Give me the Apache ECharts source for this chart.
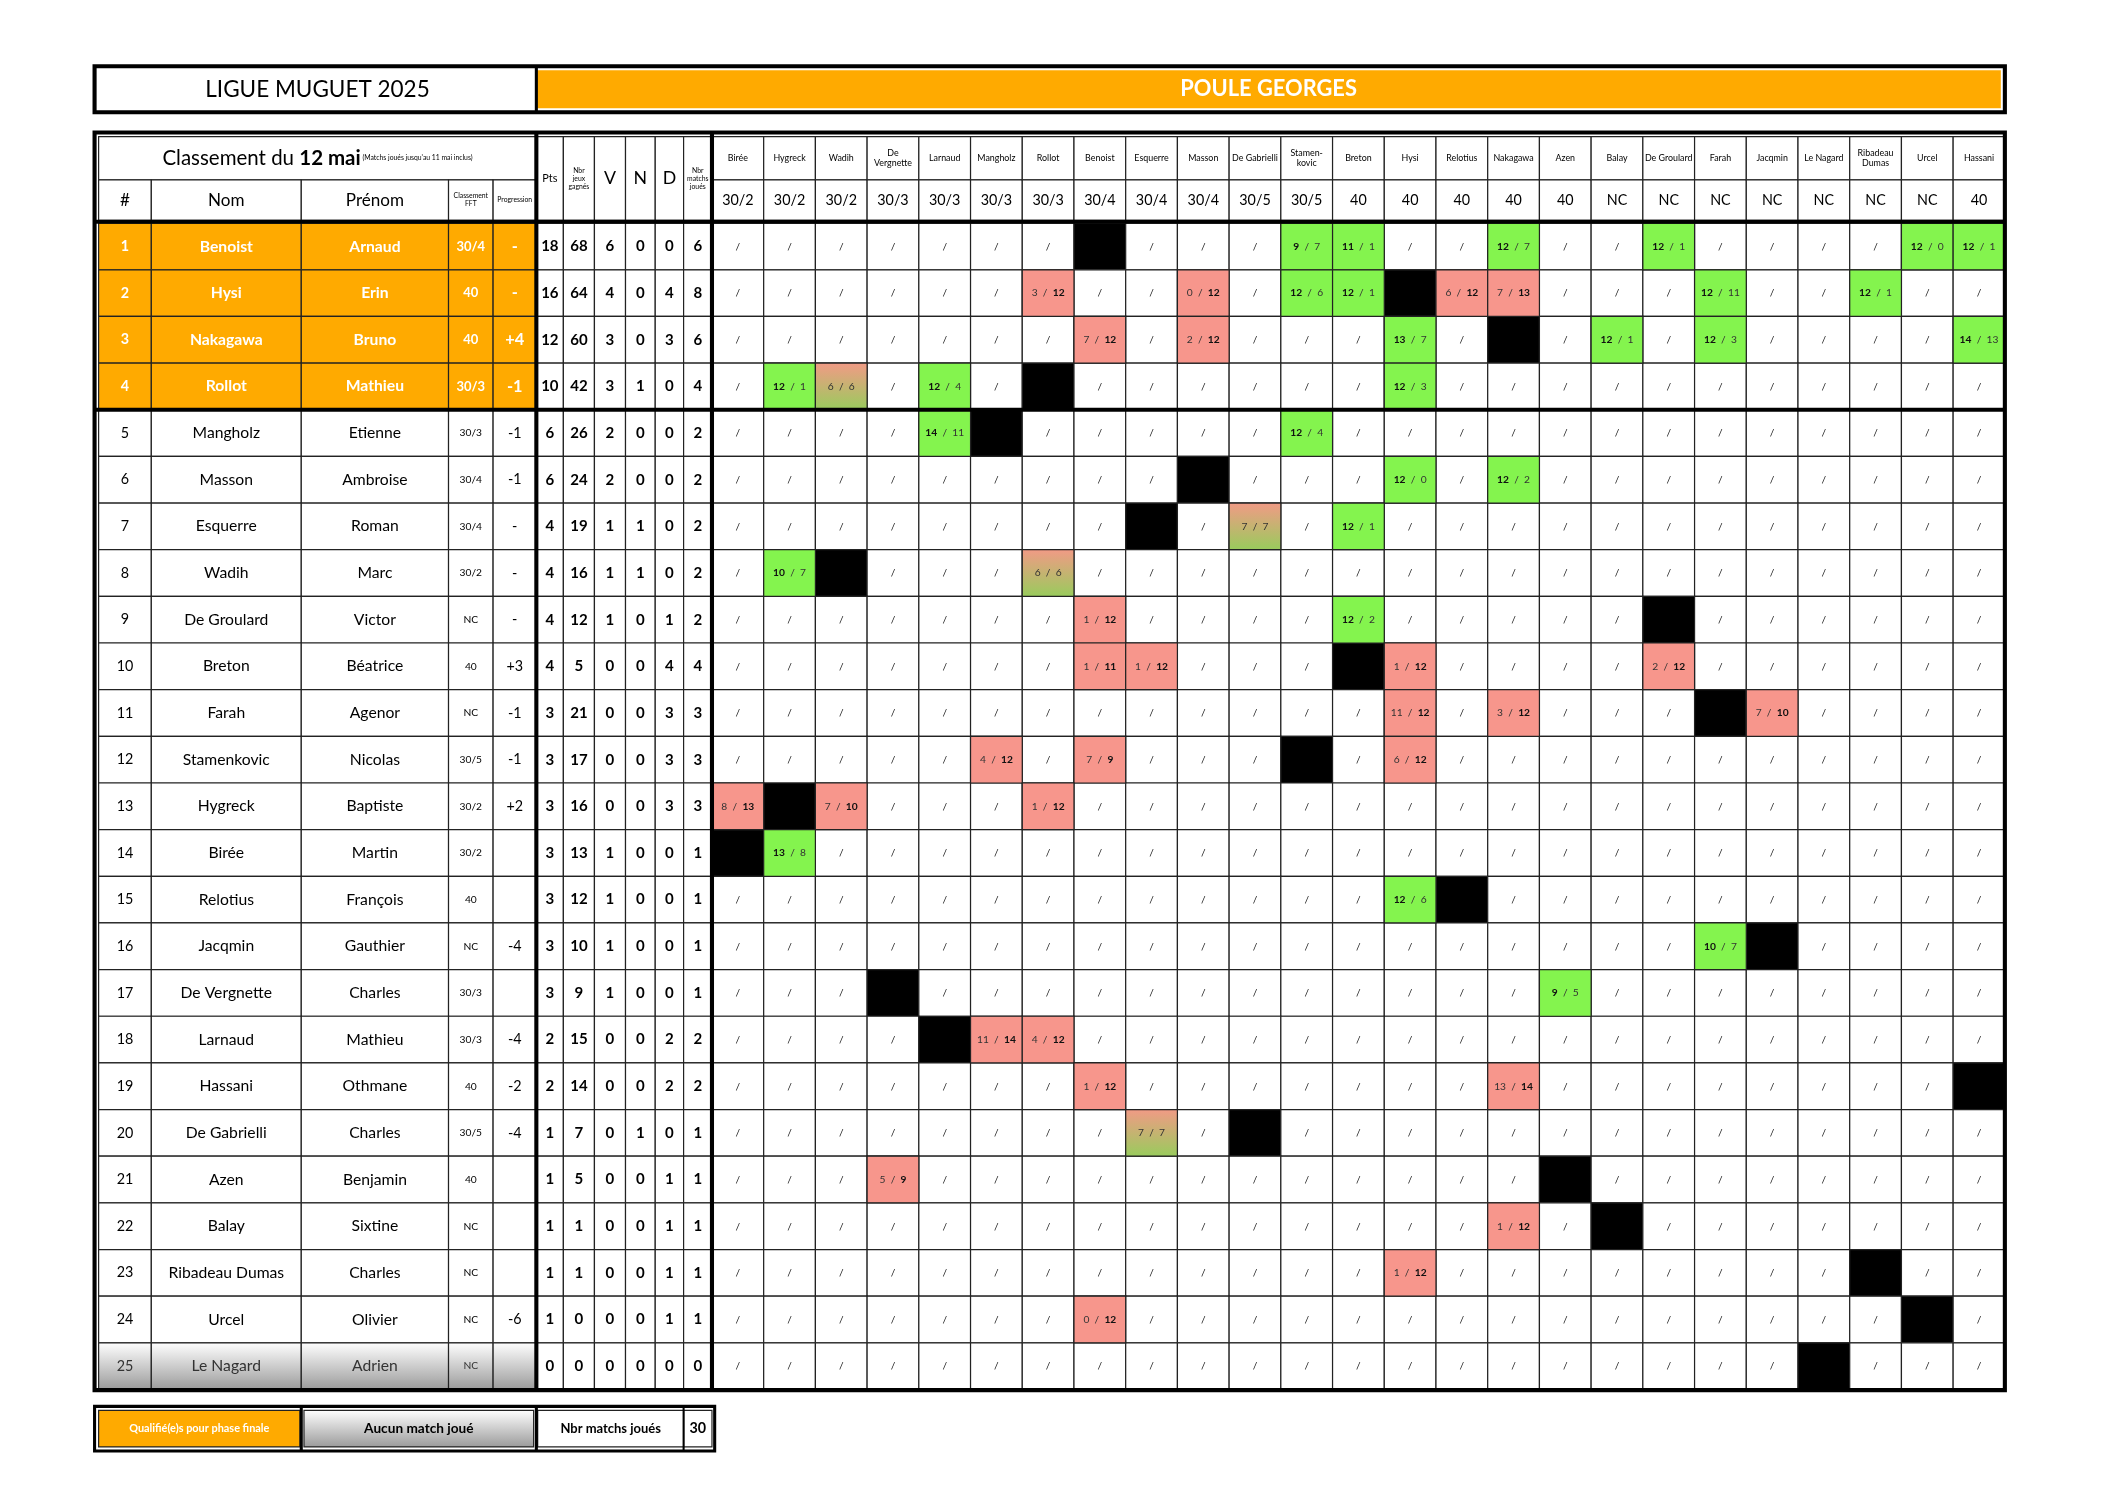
<!DOCTYPE html>
<html>
<head>
<meta charset="UTF-8">
<title>Ligue Muguet 2025</title>
<script src="https://cdn.jsdelivr.net/npm/echarts@6/dist/echarts.min.js"></script>
<style>
  body, html { margin: 0; padding: 0; width: 100%; height: 100%; background: #fff; }
  #main { width: 100%; height: 100%; }
</style>
</head>
<body>
<div id="main"></div>
<script>
// ---- data ----
var noms = ['Benoist','Hysi','Nakagawa','Rollot','Mangholz','Masson','Esquerre','Wadih','De Groulard','Breton','Farah','Stamenkovic','Hygreck','Birée','Relotius','Jacqmin','De Vergnette','Larnaud','Hassani','De Gabrielli','Azen','Balay','Ribadeau Dumas','Urcel','Le Nagard'];
var prenoms = ['Arnaud','Erin','Bruno','Mathieu','Etienne','Ambroise','Roman','Marc','Victor','Béatrice','Agenor','Nicolas','Baptiste','Martin','François','Gauthier','Charles','Mathieu','Othmane','Charles','Benjamin','Sixtine','Charles','Olivier','Adrien'];
var classementFFT = ['30/4','40','40','30/3','30/3','30/4','30/4','30/2','NC','40','NC','30/5','30/2','30/2','40','NC','30/3','30/3','40','30/5','40','NC','NC','NC','NC'];
var progression = ['-','-','+4','-1','-1','-1','-','-','-','+3','-1','-1','+2','','','-4','','-4','-2','-4','','','','-6',''];
var pts    = [18,16,12,10,6,6,4,4,4,4,3,3,3,3,3,3,3,2,2,1,1,1,1,1,0];
var jeux   = [68,64,60,42,26,24,19,16,12,5,21,17,16,13,12,10,9,15,14,7,5,1,1,0,0];
var vict   = [6,4,3,3,2,2,1,1,1,0,0,0,0,1,1,1,1,0,0,0,0,0,0,0,0];
var nuls   = [0,0,0,1,0,0,1,1,0,0,0,0,0,0,0,0,0,0,0,1,0,0,0,0,0];
var defs   = [0,4,3,0,0,0,0,0,1,4,3,3,3,0,0,0,0,2,2,0,1,1,1,1,0];
var joues  = [6,8,6,4,2,2,2,2,2,4,3,3,3,1,1,1,1,2,2,1,1,1,1,1,0];
var colNoms = ['Birée','Hygreck','Wadih','De\nVergnette','Larnaud','Mangholz','Rollot','Benoist','Esquerre','Masson','De Gabrielli','Stamen-\nkovic','Breton','Hysi','Relotius','Nakagawa','Azen','Balay','De Groulard','Farah','Jacqmin','Le Nagard','Ribadeau\nDumas','Urcel','Hassani'];
var colClassements = ['30/2','30/2','30/2','30/3','30/3','30/3','30/3','30/4','30/4','30/4','30/5','30/5','40','40','40','40','40','NC','NC','NC','NC','NC','NC','NC','40'];
// own column (black cell) for each row
var ownCol = [7,13,15,6,5,9,8,2,18,12,19,11,1,0,14,20,3,4,24,10,16,17,22,23,21];
// [row, col, jeux pour, jeux contre]
var scores = [
  [0,11,9,7],[0,12,11,1],[0,15,12,7],[0,18,12,1],[0,23,12,0],[0,24,12,1],
  [1,6,3,12],[1,9,0,12],[1,11,12,6],[1,12,12,1],[1,14,6,12],[1,15,7,13],[1,19,12,11],[1,22,12,1],
  [2,7,7,12],[2,9,2,12],[2,13,13,7],[2,17,12,1],[2,19,12,3],[2,24,14,13],
  [3,1,12,1],[3,2,6,6],[3,4,12,4],[3,13,12,3],
  [4,4,14,11],[4,11,12,4],
  [5,13,12,0],[5,15,12,2],
  [6,10,7,7],[6,12,12,1],
  [7,1,10,7],[7,6,6,6],
  [8,7,1,12],[8,12,12,2],
  [9,7,1,11],[9,8,1,12],[9,13,1,12],[9,18,2,12],
  [10,13,11,12],[10,15,3,12],[10,20,7,10],
  [11,5,4,12],[11,7,7,9],[11,13,6,12],
  [12,0,8,13],[12,2,7,10],[12,6,1,12],
  [13,1,13,8],
  [14,13,12,6],
  [15,19,10,7],
  [16,16,9,5],
  [17,5,11,14],[17,6,4,12],
  [18,7,1,12],[18,15,13,14],
  [19,8,7,7],
  [20,3,5,9],
  [21,15,1,12],
  [22,13,1,12],
  [23,7,0,12]
];
var nbQualifies = 4;
var totalMatchs = 30;

// ---- layout (page units) ----
var W = 1567, H = 1107;
var ORANGE = '#FFAA00', GREEN = '#84F44E', RED = '#F7968C';
var leftCols = [73,112,223,332,365,397];
var statCols = [397,417,440,463,485,506,527];
var mx0 = 527, mx1 = 1484, mcw = (mx1 - mx0) / 25;
var rowTop = 165, rowH = 34.5;
var FONT = 'Lato, "DejaVu Sans", sans-serif';

var cells = [];   // [x0,x1,y0,y1,text,fill,color,size,weight,border]
var frames = [];  // [x0,x1,y0,y1,lineWidth]
function cell(x0,x1,y0,y1,text,fill,color,size,weight,border){
  cells.push([x0,x1,y0,y1,text,fill||'#fff',color||'#000',size||11,weight||'normal',border===undefined?'#222':border]);
}
var drawGrad = {type:'linear',x:0,y:0,x2:0,y2:1,colorStops:[{offset:0,color:'#F29A86'},{offset:1,color:'#98CC5C'}]};
var greyGrad = {type:'linear',x:0,y:0,x2:0,y2:1,colorStops:[{offset:0,color:'#FFFFFF'},{offset:1,color:'#9A9A9A'}]};

// title band
cell(73,397,52,80,'LIGUE MUGUET 2025','#fff','#000',16.5,'normal','transparent');
cell(397,1481,52,80,'POULE GEORGES',ORANGE,'#fff',16,'bold','transparent');
frames.push([70,1484,49,83,4],[397,397,49,83,3]);

// header rows
cell(73,397,101,133,'{a|Classement du }{b|12 mai}{s| (Matchs joués jusqu\'au 11 mai inclus)}','#fff','#000',15,'normal');
var hdr = ['#','Nom','Prénom','Classement\nFFT','Progression'];
for (var i = 0; i < 5; i++) {
  var sm = i >= 3;
  cell(leftCols[i],leftCols[i+1],133,163,hdr[i],'#fff','#000',sm?5:12.5,'normal');
}
var shdr = ['Pts','Nbr\njeux\ngagnés','V','N','D','Nbr\nmatchs\njoués'];
for (i = 0; i < 6; i++) {
  var small = (i === 1 || i === 5), pt = i === 0;
  cell(statCols[i],statCols[i+1],101,163,shdr[i],'#fff','#000',small?5:(pt?8:13),'normal');
}
for (var c = 0; c < 25; c++) {
  cell(mx0+c*mcw,mx0+(c+1)*mcw,101,133,colNoms[c],'#fff','#000',6.5,'normal');
  cell(mx0+c*mcw,mx0+(c+1)*mcw,133,163,colClassements[c],'#fff','#000',10.5,'normal');
}

// body rows
for (var r = 0; r < 25; r++) {
  var y0 = rowTop + r*rowH, y1 = y0 + rowH;
  var q = r < nbQualifies, last = r === joues.length-1 && joues[r] === 0;
  var f = q ? ORANGE : (last ? greyGrad : '#fff');
  var tc = q ? '#fff' : (last ? '#333' : '#000');
  var w = q ? 'bold' : 'normal';
  var vals = [String(r+1), noms[r], prenoms[r], classementFFT[r], progression[r]];
  var sz = [10.5,11.5,11.5,q?9.5:7.5,10.5];
  for (i = 0; i < 5; i++) cell(leftCols[i],leftCols[i+1],y0,y1,vals[i],f,tc,q&&i===4?12:sz[i],w);
  var sv = [pts[r],jeux[r],vict[r],nuls[r],defs[r],joues[r]];
  for (i = 0; i < 6; i++) cell(statCols[i],statCols[i+1],y0,y1,String(sv[i]),'#fff','#000',11,'bold');
  for (c = 0; c < 25; c++) {
    if (c === ownCol[r]) cell(mx0+c*mcw,mx0+(c+1)*mcw,y0,y1,'','#000','#000',8,'normal');
    else cell(mx0+c*mcw,mx0+(c+1)*mcw,y0,y1,'/','#fff','#222',7.5,'normal');
  }
}
scores.forEach(function (s) {
  var r = s[0], c = s[1], a = s[2], b = s[3];
  var y0 = rowTop + r*rowH;
  var fill, txt;
  if (a > b) { fill = GREEN; txt = '{w|' + a + '}{n|  /  ' + b + '}'; }
  else if (a < b) { fill = RED; txt = '{n|' + a + '  /  }{w|' + b + '}'; }
  else { fill = drawGrad; txt = '{n|' + a + '  /  ' + b + '}'; }
  cell(mx0+c*mcw,mx0+(c+1)*mcw,y0,y0+rowH,txt,fill,'#222',7,'normal');
});

// thick frames
frames.push([70,1484,98,1028,4]);
frames.push([70,1484,164,164,4]);
frames.push([70,1484,rowTop+nbQualifies*rowH,rowTop+nbQualifies*rowH,4]);
frames.push([397,397,98,1028,4],[527,527,98,1028,4]);

// legend
cell(73,222,1043,1070,'Qualifié(e)s pour phase finale',ORANGE,'#fff',8,'bold');
cell(225,395,1043,1070,'Aucun match joué',greyGrad,'#000',10,'bold');
cell(398,506,1043,1070,'Nbr matchs joués','#fff','#000',9.5,'bold');
cell(506,527,1043,1070,String(totalMatchs),'#fff','#000',10.5,'bold');
frames.push([70,529,1040,1073,3],[397,397,1040,1073,3],[506,506,1040,1073,2],[223,223,1040,1073,3]);

var chart = echarts.init(document.getElementById('main'), null, {renderer: 'canvas'});
var K = chart.getWidth() / 1550;

function renderCell(params, api) {
  var d = cells[params.dataIndex];
  var p0 = api.coord([d[0], d[2]]), p1 = api.coord([d[1], d[3]]);
  var fs = d[7] * K;
  var isTitle = d[4].indexOf('{a|') === 0;
  return {
    type: 'group',
    children: [{
      type: 'rect',
      shape: {x: p0[0], y: p0[1], width: p1[0]-p0[0], height: p1[1]-p0[1]},
      style: {fill: d[5], stroke: d[9], lineWidth: 1.2}
    }, {
      type: 'text',
      style: {
        x: (p0[0]+p1[0])/2, y: (p0[1]+p1[1])/2,
        text: d[4], align: 'center', verticalAlign: 'middle',
        fill: d[6], fontSize: fs, fontWeight: d[8], fontFamily: FONT,
        lineHeight: fs * 1.15,
        rich: isTitle ? {
          a: {fontSize: 15*K, fontFamily: FONT, fill: '#000'},
          b: {fontSize: 15*K, fontFamily: FONT, fontWeight: 'bold', fill: '#000'},
          s: {fontSize: 5*K, fontFamily: FONT, fill: '#000'}
        } : {
          w: {fontSize: 7.5*K, fontWeight: 'bold', fontFamily: FONT, fill: '#111'},
          n: {fontSize: 7.5*K, fontFamily: FONT, fill: '#333'}
        }
      }
    }]
  };
}
function renderFrame(params, api) {
  var d = frames[params.dataIndex];
  var p0 = api.coord([d[0], d[2]]), p1 = api.coord([d[1], d[3]]);
  var lw = d[4] * K * 0.75;
  if (d[0] === d[1] || d[2] === d[3]) {
    return {type: 'line', shape: {x1: p0[0], y1: p0[1], x2: p1[0], y2: p1[1]}, style: {stroke: '#000', lineWidth: lw}};
  }
  return {type: 'rect', shape: {x: p0[0], y: p0[1], width: p1[0]-p0[0], height: p1[1]-p0[1]}, style: {fill: 'none', stroke: '#000', lineWidth: lw}};
}

chart.setOption({
  animation: false,
  grid: {left: 0, right: 0, top: 0, bottom: 0},
  xAxis: {type: 'value', min: 0, max: W, show: false},
  yAxis: {type: 'value', min: 0, max: H, inverse: true, show: false},
  series: [
    {type: 'custom', renderItem: renderCell, data: cells.map(function (d, i) { return [d[0], d[2], i]; }), silent: true},
    {type: 'custom', renderItem: renderFrame, data: frames.map(function (d, i) { return [d[0], d[2], i]; }), silent: true}
  ]
});
</script>
</body>
</html>
